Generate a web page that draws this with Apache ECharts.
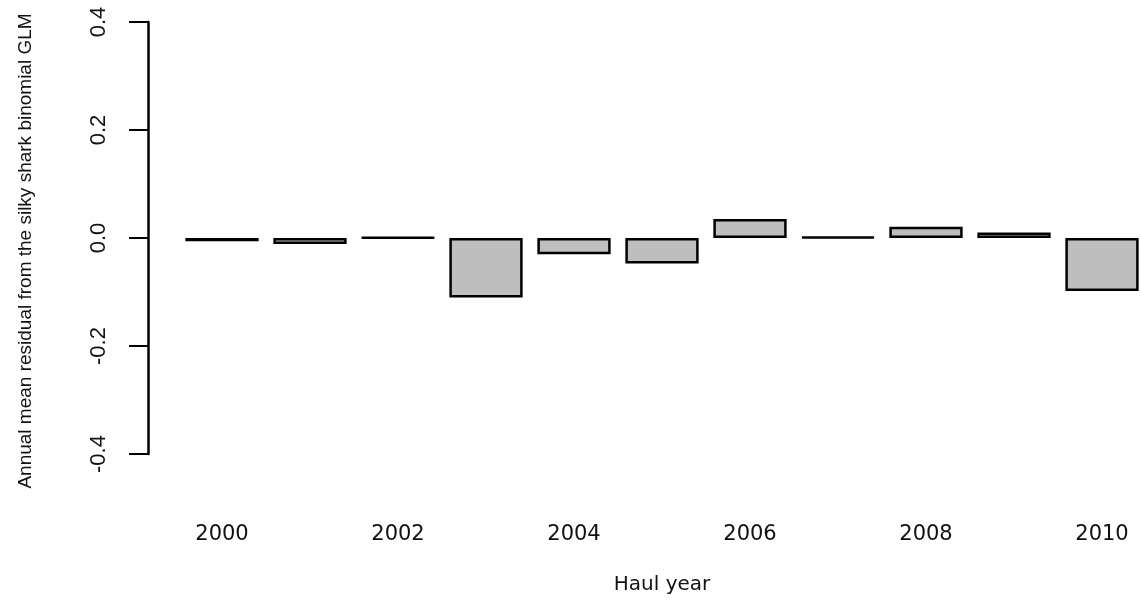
<!DOCTYPE html>
<html>
<head>
<meta charset="utf-8">
<script src="https://cdn.jsdelivr.net/npm/echarts@6/dist/echarts.min.js"></script>
<style>html,body{margin:0;padding:0;background:#fff}#c{width:1141px;height:600px}</style>
</head>
<body>
<div id="c"></div>
<script>
const years = ['2000','2001','2002','2003','2004','2005','2006','2007','2008','2009','2010'];
const residuals = [-0.006, -0.011, 0.001, -0.110, -0.030, -0.047, 0.035, 0.002, 0.021, 0.010, -0.098];
const yTicks = { min: -0.4, max: 0.4, interval: 0.2 };
const xTitle = 'Haul year';
const yTitle = 'Annual mean residual from the silky shark binomial GLM';

const narrow = '"Liberation Sans", Arial, sans-serif';
const chart = echarts.init(document.getElementById('c'), null, { renderer: 'canvas' });
chart.setOption({
  animation: false,
  backgroundColor: '#ffffff',
  grid: { left: 178, right: -5, top: 22, bottom: 146, containLabel: false, outerBoundsMode: 'none' },
  xAxis: {
    type: 'category',
    data: years,
    boundaryGap: true,
    axisLine: { show: false, onZero: false },
    axisTick: { show: false },
    splitLine: { show: false },
    axisLabel: { interval: 1, margin: 70, fontFamily: 'DejaVu Sans', fontSize: 21, color: '#111' },
    name: xTitle,
    nameLocation: 'middle',
    nameGap: 121,
    nameTextStyle: { fontFamily: 'DejaVu Sans', fontSize: 20, color: '#111' }
  },
  yAxis: {
    type: 'value',
    min: yTicks.min, max: yTicks.max, interval: yTicks.interval,
    offset: 30,
    axisLine: { show: true, lineStyle: { color: '#000', width: 2.5 } },
    axisTick: { show: true, length: 19, lineStyle: { color: '#000', width: 2 } },
    splitLine: { show: false },
    axisLabel: {
      rotate: 90, margin: 38,
      formatter: v => v.toFixed(1),
      fontFamily: narrow, fontSize: 22, color: '#111'
    },
    name: yTitle,
    nameLocation: 'middle',
    nameGap: 113,
    nameRotate: 90,
    nameTextStyle: { fontFamily: narrow, fontSize: 19, color: '#111', padding: [0, 26, 0, 0] }
  },
  series: [{
    type: 'bar',
    data: residuals,
    barCategoryGap: '16.7%',
    itemStyle: { color: '#bebebe', borderColor: '#000', borderWidth: 2.5 }
  }]
});
</script>
</body>
</html>
